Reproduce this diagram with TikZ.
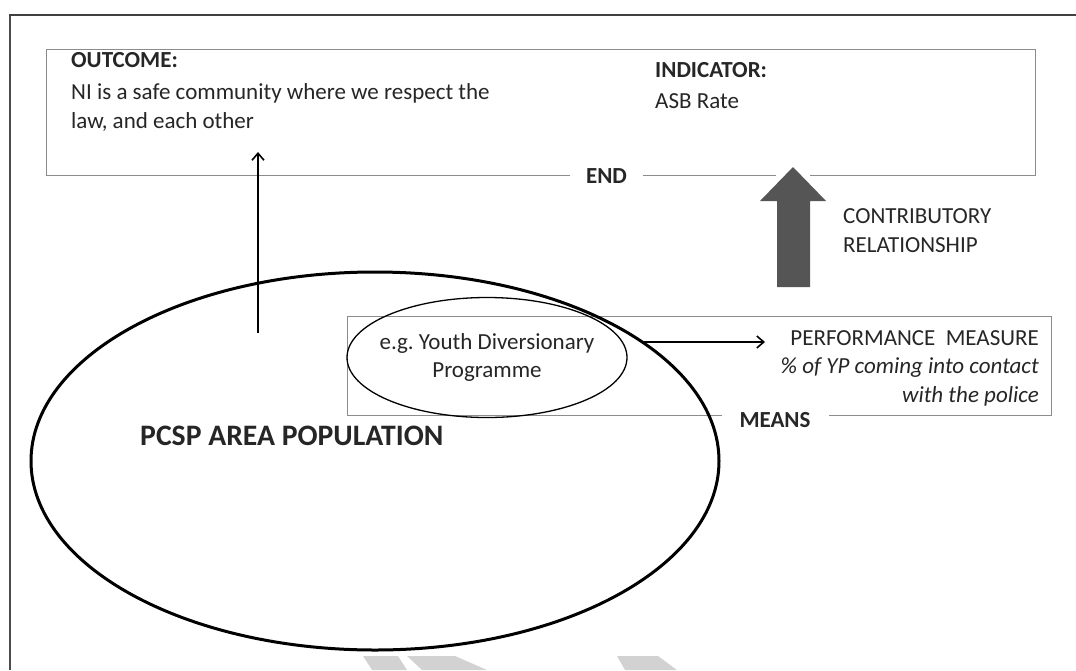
\documentclass[tikz,border=0pt]{standalone}
\usepackage{fontspec}
\setmainfont{Carlito}
\usetikzlibrary{shapes.geometric,arrows.meta}
\definecolor{scangray}{HTML}{555555}
\definecolor{boxgray}{HTML}{8C8C8C}
\definecolor{markgray}{HTML}{D2D2D2}
\tikzset{
  txt/.style={inner sep=0pt, text=black!85, font=\fontsize{23}{28.5}\selectfont, align=left},
  headtxt/.style={txt, font=\fontsize{23}{28.5}\selectfont\bfseries},
  framebox/.style={draw=boxgray, line width=1pt, inner sep=0pt},
  thinarrow/.style={-{Straight Barb[length=7pt,width=12pt]}, line width=1.6pt}
}

\begin{document}
\begin{tikzpicture}[x=1pt,y=-1pt]
  \useasboundingbox (0,0) rectangle (1076,670);
  \draw[line width=1.5pt, black!70] (10,670) -- (10,15);
  \draw[line width=2.5pt, black!75] (9,15) -- (1076,15);
  \foreach \a/\b/\c/\d in {363/398/407/372, 407/455/487/422, 617/658/677/625}
    \fill[markgray] (\a,656) -- (\b,656) -- (\c,670) -- (\d,670) -- cycle;

  \node[framebox, minimum width=989pt, minimum height=126pt] (endbox) at (540.5,112) {};
  \node[framebox, minimum width=704pt, minimum height=99pt] (meansbox) at (699,365.5) {};

  % multi-line nodes sit on the baseline of their last line
  \node[txt, anchor=base west] (outcome) at (71,128)
    {\textbf{OUTCOME:}\\[3.5pt]NI is a safe community where we respect the\\law, and each other};
  \node[txt, anchor=base west] (indicator) at (655,108) {\textbf{INDICATOR:}\\[2.5pt]ASB Rate};
  \node[headtxt, fill=white, inner xsep=16pt, inner ysep=3pt, anchor=base] (end) at (606.5,183) {END};

  \fill[white] (776,169) rectangle (810,181);
  \fill[scangray] (777,287) -- (777,201) -- (760,201) -- (793,167) -- (826,201) -- (810,201) -- (810,287) -- cycle;
  \node[txt, anchor=base west] (contrib) at (843,252) {CONTRIBUTORY\\RELATIONSHIP};

  \node[headtxt, fill=white, inner xsep=18pt, inner ysep=3pt, anchor=base] (means) at (775,427) {MEANS};
  \node[txt, align=right, anchor=base east] (perf) at (1039,402)
    {PERFORMANCE\ \ MEASURE\\\textit{\% of YP coming into contact}\\\textit{with the police}};

  \node[draw, ellipse, line width=3pt, minimum width=688pt, minimum height=378pt, inner sep=0pt] (pop) at (375,461) {};
  \node[txt, font=\fontsize{29.7}{34}\selectfont\bfseries, anchor=base west] (poplabel) at (140,445) {PCSP AREA POPULATION};

  \node[draw, ellipse, line width=1.3pt, minimum width=280pt, minimum height=120pt, inner sep=0pt] (youth) at (487,357.5) {};
  \node[txt, align=center] (youthlabel) at (youth) {e.g.\ Youth Diversionary\\Programme};

  \coordinate (popup) at (258,333);
  \coordinate (outtip) at (258,152);
  \draw[thinarrow] (popup) -- (outtip);
  \coordinate (youthout) at (644,342);
  \coordinate (perfin) at (765,342);
  \draw[thinarrow] (youthout) -- (perfin);
\end{tikzpicture}
\end{document}
